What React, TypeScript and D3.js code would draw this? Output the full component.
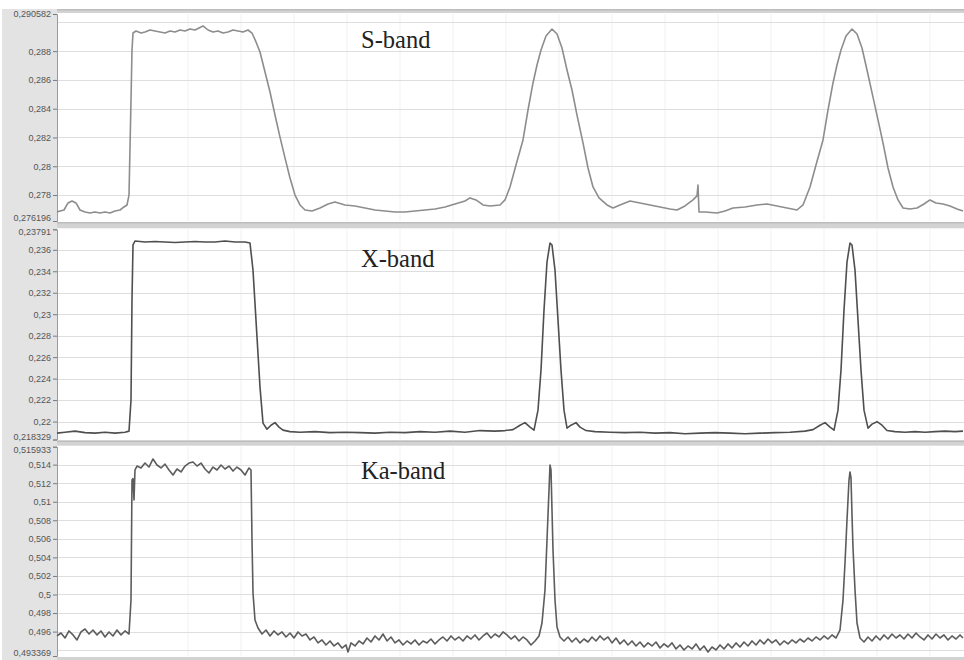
import React, { useEffect, useRef } from 'react';
import * as d3 from 'd3';

// sample index along the sweep
const sBand: [number, number][] = [
  [0, 0.27682], [3, 0.27689], [7, 0.27696], [11, 0.27745], [15, 0.27759], [19, 0.27745], [23, 0.27696], [28, 0.27682],
  [33, 0.27675], [38, 0.27682], [43, 0.27675], [48, 0.27682], [53, 0.27675], [58, 0.27689], [63, 0.27696], [67, 0.27717],
  [70, 0.27731], [72, 0.278], [74, 0.28461], [75, 0.28808], [76, 0.28926], [79, 0.2894], [84, 0.28926], [88, 0.28933],
  [93, 0.28947], [98, 0.2894], [103, 0.28933], [108, 0.28926], [113, 0.2894], [118, 0.28933], [123, 0.28947], [128, 0.2894],
  [133, 0.28954], [138, 0.28947], [146, 0.28975], [151, 0.28947], [156, 0.28933], [161, 0.2894], [166, 0.28926], [171, 0.28933],
  [176, 0.28947], [181, 0.2894], [186, 0.28933], [191, 0.28947], [195, 0.28926], [199, 0.28864], [203, 0.28794], [208, 0.28655],
  [213, 0.28516], [218, 0.28356], [223, 0.28203], [228, 0.28058], [233, 0.27918], [238, 0.278], [243, 0.27731], [248, 0.27696],
  [255, 0.27689], [263, 0.2771], [271, 0.27738], [278, 0.27752], [288, 0.27731], [298, 0.27724], [308, 0.2771], [318, 0.27696],
  [328, 0.27689], [338, 0.27682], [348, 0.27682], [358, 0.27689], [368, 0.27696], [378, 0.27703], [388, 0.27717], [398, 0.27738],
  [408, 0.27759], [413, 0.2778], [419, 0.27766], [426, 0.27731], [433, 0.27724], [443, 0.27731], [448, 0.27766], [453, 0.27856],
  [459, 0.28009], [466, 0.28183], [471, 0.28391], [476, 0.28579], [480, 0.28704], [484, 0.28808], [489, 0.28905], [495, 0.28954],
  [500, 0.28919], [505, 0.28822], [510, 0.28669], [515, 0.2853], [520, 0.28356], [526, 0.28162], [531, 0.27988], [536, 0.27856],
  [542, 0.2778], [550, 0.27731], [556, 0.2771], [563, 0.27731], [573, 0.27759], [583, 0.27745], [593, 0.27731], [603, 0.27717],
  [613, 0.27703], [620, 0.27696], [628, 0.27724], [636, 0.27766], [640, 0.27794], [641, 0.2787], [642, 0.27682], [648, 0.27682],
  [660, 0.27675], [668, 0.27689], [676, 0.2771], [688, 0.27717], [700, 0.27731], [710, 0.27738], [720, 0.27724], [730, 0.2771],
  [740, 0.27696], [746, 0.27731], [753, 0.27856], [759, 0.28009], [766, 0.28183], [771, 0.28391], [776, 0.28579], [780, 0.28704],
  [784, 0.28808], [789, 0.28905], [795, 0.28954], [800, 0.28919], [805, 0.28822], [810, 0.28669], [816, 0.28481], [821, 0.28322],
  [826, 0.28162], [831, 0.27988], [836, 0.27856], [841, 0.27766], [846, 0.2771], [853, 0.27703], [860, 0.2771], [867, 0.27738],
  [873, 0.27766], [879, 0.27745], [886, 0.27738], [893, 0.27724], [900, 0.27703], [906, 0.27689]
];

const xBand: [number, number][] = [
  [0, 0.21892], [8, 0.21901], [18, 0.21911], [28, 0.21897], [38, 0.21892], [48, 0.21901], [58, 0.21892], [68, 0.21901],
  [72, 0.21911], [74, 0.222], [75, 0.23132], [76, 0.23645], [78, 0.23682], [88, 0.23673], [98, 0.23677], [108, 0.23673],
  [118, 0.23668], [128, 0.23673], [138, 0.23677], [148, 0.23673], [158, 0.23673], [168, 0.23682], [178, 0.23673], [188, 0.23673],
  [193, 0.23663], [196, 0.23411], [200, 0.22787], [203, 0.22321], [206, 0.21985], [210, 0.21929], [214, 0.21966], [218, 0.2199],
  [222, 0.21948], [226, 0.2192], [233, 0.21906], [243, 0.21901], [258, 0.21906], [273, 0.21897], [288, 0.21901], [303, 0.21897],
  [318, 0.21892], [333, 0.21901], [348, 0.21897], [363, 0.21906], [378, 0.21901], [393, 0.21911], [408, 0.21901], [423, 0.21916],
  [438, 0.21911], [448, 0.21916], [456, 0.21925], [463, 0.21966], [468, 0.2199], [473, 0.21948], [477, 0.2192], [481, 0.22106],
  [484, 0.22479], [487, 0.23038], [490, 0.23486], [493, 0.23663], [495, 0.23645], [498, 0.23411], [501, 0.22945], [504, 0.22479],
  [507, 0.22106], [510, 0.21939], [514, 0.21966], [519, 0.2199], [523, 0.21948], [529, 0.21916], [538, 0.21906], [553, 0.21901],
  [568, 0.21897], [583, 0.21901], [598, 0.21892], [613, 0.21897], [628, 0.21887], [643, 0.21892], [658, 0.21897], [673, 0.21892],
  [688, 0.21887], [703, 0.21892], [718, 0.21897], [733, 0.21901], [748, 0.21911], [756, 0.21925], [763, 0.21966], [768, 0.2199],
  [773, 0.21948], [777, 0.2192], [781, 0.22106], [784, 0.22479], [787, 0.23038], [790, 0.23486], [793, 0.23663], [795, 0.23645],
  [798, 0.23411], [801, 0.22945], [804, 0.22479], [807, 0.22106], [811, 0.21939], [815, 0.21976], [820, 0.21999], [825, 0.21966],
  [830, 0.21916], [838, 0.21906], [848, 0.21901], [858, 0.21906], [868, 0.21901], [878, 0.21906], [888, 0.21911], [898, 0.21906],
  [906, 0.21911]
];

const kaBand: [number, number][] = [
  [0, 0.49553], [4, 0.49585], [8, 0.49531], [12, 0.49607], [16, 0.49564], [20, 0.4951], [24, 0.49596], [28, 0.49628],
  [32, 0.49574], [36, 0.49617], [40, 0.49564], [44, 0.49607], [48, 0.49542], [52, 0.49596], [56, 0.49553], [60, 0.49617],
  [64, 0.49564], [68, 0.49607], [72, 0.49574], [74, 0.4994], [75, 0.51234], [76, 0.5125], [77, 0.51019], [78, 0.51342],
  [80, 0.51385], [84, 0.51364], [88, 0.51417], [92, 0.51374], [96, 0.51461], [100, 0.51396], [104, 0.51364], [108, 0.51406],
  [112, 0.51342], [116, 0.51288], [120, 0.51353], [124, 0.51321], [128, 0.51385], [132, 0.51417], [136, 0.51428], [140, 0.51385],
  [144, 0.51417], [148, 0.51353], [152, 0.5131], [156, 0.51374], [160, 0.51342], [164, 0.51396], [168, 0.51353], [172, 0.51385],
  [176, 0.51331], [180, 0.51374], [184, 0.51342], [188, 0.51288], [192, 0.51364], [194, 0.51342], [195, 0.50587], [196, 0.50016],
  [198, 0.49725], [201, 0.49639], [205, 0.49574], [209, 0.49617], [213, 0.49553], [217, 0.49607], [221, 0.49564], [225, 0.49596],
  [229, 0.49542], [233, 0.49585], [237, 0.49531], [241, 0.49596], [245, 0.49553], [249, 0.49574], [253, 0.4951], [257, 0.49542],
  [261, 0.49478], [265, 0.4951], [269, 0.49456], [273, 0.49499], [277, 0.49445], [281, 0.49478], [285, 0.49423], [289, 0.49456],
  [291, 0.4938], [294, 0.49478], [298, 0.49445], [302, 0.49499], [306, 0.49467], [310, 0.49531], [314, 0.49488], [318, 0.49553],
  [322, 0.4951], [326, 0.49574], [330, 0.49499], [334, 0.49542], [338, 0.49478], [342, 0.4951], [346, 0.49456], [350, 0.49499],
  [354, 0.49467], [358, 0.4951], [362, 0.49456], [366, 0.49499], [370, 0.49478], [374, 0.4952], [378, 0.49467], [382, 0.4951],
  [386, 0.49542], [390, 0.49499], [394, 0.49553], [398, 0.4951], [402, 0.49542], [406, 0.49499], [410, 0.49553], [414, 0.4952],
  [418, 0.49564], [422, 0.4951], [426, 0.49553], [430, 0.49585], [434, 0.49531], [438, 0.49574], [442, 0.49542], [446, 0.49596],
  [450, 0.49564], [454, 0.4952], [458, 0.49553], [462, 0.49499], [466, 0.49542], [470, 0.4951], [474, 0.49456], [478, 0.49499],
  [482, 0.49553], [485, 0.49693], [488, 0.5005], [490, 0.50587], [492, 0.51126], [493, 0.51396], [494, 0.51342], [495, 0.5091],
  [496, 0.50479], [498, 0.4994], [500, 0.4965], [503, 0.49542], [507, 0.49499], [511, 0.49542], [515, 0.49488], [519, 0.49531],
  [523, 0.49478], [527, 0.4952], [531, 0.49488], [535, 0.49542], [539, 0.49499], [543, 0.49553], [547, 0.4951], [551, 0.49542],
  [555, 0.49478], [559, 0.49531], [563, 0.49467], [567, 0.4951], [571, 0.49456], [575, 0.49499], [579, 0.49445], [583, 0.49488],
  [587, 0.49434], [591, 0.49478], [595, 0.49445], [599, 0.49488], [603, 0.49423], [607, 0.49467], [611, 0.49434], [615, 0.49478],
  [619, 0.49413], [623, 0.49456], [627, 0.49402], [631, 0.49445], [635, 0.49413], [639, 0.49467], [643, 0.49402], [647, 0.49445],
  [651, 0.4938], [655, 0.49434], [659, 0.49402], [663, 0.49456], [667, 0.49413], [671, 0.49467], [675, 0.49423], [679, 0.49478],
  [683, 0.49434], [687, 0.49488], [691, 0.49445], [695, 0.49499], [699, 0.49456], [703, 0.4951], [707, 0.49467], [711, 0.4952],
  [715, 0.49478], [719, 0.4951], [723, 0.49456], [727, 0.49499], [731, 0.49467], [735, 0.4951], [739, 0.49478], [743, 0.4952],
  [747, 0.49488], [751, 0.49531], [755, 0.49499], [759, 0.49542], [763, 0.4951], [767, 0.49553], [771, 0.4952], [775, 0.49564],
  [779, 0.49531], [783, 0.49617], [786, 0.4994], [788, 0.5034], [790, 0.50803], [792, 0.51234], [793, 0.51321], [794, 0.51256],
  [795, 0.50857], [796, 0.50501], [798, 0.5005], [800, 0.49693], [803, 0.49531], [807, 0.49488], [811, 0.49542], [815, 0.49499],
  [819, 0.49553], [823, 0.4951], [827, 0.49564], [831, 0.4952], [835, 0.49574], [839, 0.49531], [843, 0.49564], [847, 0.4952],
  [851, 0.49574], [855, 0.49531], [859, 0.49585], [863, 0.49542], [867, 0.4951], [871, 0.49564], [875, 0.4952], [879, 0.49574],
  [883, 0.49531], [887, 0.49564], [891, 0.4951], [895, 0.49553], [899, 0.4952], [903, 0.49564], [906, 0.49531]
];

// y axis: labelled ticks (ends are the autoscaled min/max) and grid lines
const sTicks = [0.276196, 0.278, 0.28, 0.282, 0.284, 0.286, 0.288, 0.290582];
const sGrid = [0.278, 0.28, 0.282, 0.284, 0.286, 0.288, 0.29];
const xTicks = [0.218329, 0.22, 0.222, 0.224, 0.226, 0.228, 0.23, 0.232, 0.234, 0.236, 0.23791];
const xGrid = [0.22, 0.222, 0.224, 0.226, 0.228, 0.23, 0.232, 0.234, 0.236];
const kaTicks = [0.493369, 0.496, 0.498, 0.5, 0.502, 0.504, 0.506, 0.508, 0.51, 0.512, 0.514, 0.515933];
const kaGrid = [0.494, 0.496, 0.498, 0.5, 0.502, 0.504, 0.506, 0.508, 0.51, 0.512, 0.514];
const sweepGrid = [131, 184, 237, 290, 343, 396, 449, 502, 555, 608, 661, 714, 767, 820, 873];

const panels = [
  { name: 'S-band', data: sBand, ticks: sTicks, grid: sGrid, top: 14, bottom: 221, color: '#8d8d8d', labelY: 48 },
  { name: 'X-band', data: xBand, ticks: xTicks, grid: xGrid, top: 229.3, bottom: 439.5, color: '#4f4f4f', labelY: 267 },
  { name: 'Ka-band', data: kaBand, ticks: kaTicks, grid: kaGrid, top: 446.7, bottom: 656, color: '#5c5c5c', labelY: 479 }
];

const W = 964;
const H = 660;
const left = 57;

export default function App() {
  const ref = useRef<SVGSVGElement>(null);

  useEffect(() => {
    const svg = d3.select(ref.current);
    svg.selectAll('*').remove();

    svg.append('rect').attr('width', W).attr('height', H).attr('fill', '#ffffff');
    // grey gutter on the left
    svg.append('rect').attr('x', 2).attr('y', 9).attr('width', left - 2).attr('height', H - 9).attr('fill', '#e3e3e3');

    const x = d3.scaleLinear().domain([0, 907]).range([left, W]);

    panels.forEach((p, i) => {
      const y = d3.scaleLinear()
        .domain([p.ticks[0], p.ticks[p.ticks.length - 1]])
        .range([p.bottom, p.top]);

      // separator bar above each panel
      const barTop = i === 0 ? 9 : panels[i - 1].bottom + 1;
      const barH = p.top - barTop - 1;
      svg.append('rect').attr('x', left).attr('y', barTop).attr('width', W - left).attr('height', barH).attr('fill', '#d3d3d3');
      svg.append('rect').attr('x', left).attr('y', barTop).attr('width', W - left).attr('height', 1.5).attr('fill', '#bdbdbd');

      const g = svg.append('g');

      g.selectAll('line.vgrid')
        .data(sweepGrid)
        .enter()
        .append('line')
        .attr('x1', d => x(d)).attr('x2', d => x(d))
        .attr('y1', p.top).attr('y2', p.bottom)
        .attr('stroke', '#f1f1f1')
        .attr('stroke-width', 1);

      g.selectAll('line.hgrid')
        .data(p.grid)
        .enter()
        .append('line')
        .attr('x1', left).attr('x2', W)
        .attr('y1', d => Math.round(y(d)) + 0.5).attr('y2', d => Math.round(y(d)) + 0.5)
        .attr('stroke', '#dedede')
        .attr('stroke-width', 1.2);

      const axis = d3.axisLeft(y)
        .tickValues(p.ticks)
        .tickSize(4)
        .tickPadding(2)
        .tickFormat(d => String(d).replace('.', ','));

      const ax = g.append('g')
        .attr('transform', `translate(${left},0)`)
        .call(axis);
      ax.select('.domain').attr('stroke', '#9a9a9a');
      ax.selectAll('.tick line').attr('stroke', '#7a7a7a');
      const last = p.ticks.length - 1;
      ax.selectAll('.tick text')
        .attr('fill', '#555')
        .attr('dy', (_d, k) => (k === 0 ? '-0.05em' : k === last && i > 0 ? '0.62em' : '0.32em'))
        .style('font-family', '"Liberation Sans", Arial, sans-serif')
        .style('font-size', '9px');

      const line = d3.line<[number, number]>()
        .x(d => x(d[0]))
        .y(d => y(d[1]));

      g.append('path')
        .attr('d', line(p.data))
        .attr('fill', 'none')
        .attr('stroke', p.color)
        .attr('stroke-width', 1.6)
        .attr('stroke-linejoin', 'round');

      g.append('text')
        .attr('x', 361)
        .attr('y', p.labelY)
        .style('font-family', '"Liberation Serif", "Times New Roman", serif')
        .style('font-size', '24.5px')
        .attr('fill', '#222')
        .text(p.name);
    });

    svg.append('rect').attr('x', left).attr('y', 657).attr('width', W - left).attr('height', 3).attr('fill', '#d3d3d3');
  }, []);

  return (
    <svg ref={ref} width={W} height={H} style={{ position: 'absolute', left: 0, top: 0 }} />
  );
}
